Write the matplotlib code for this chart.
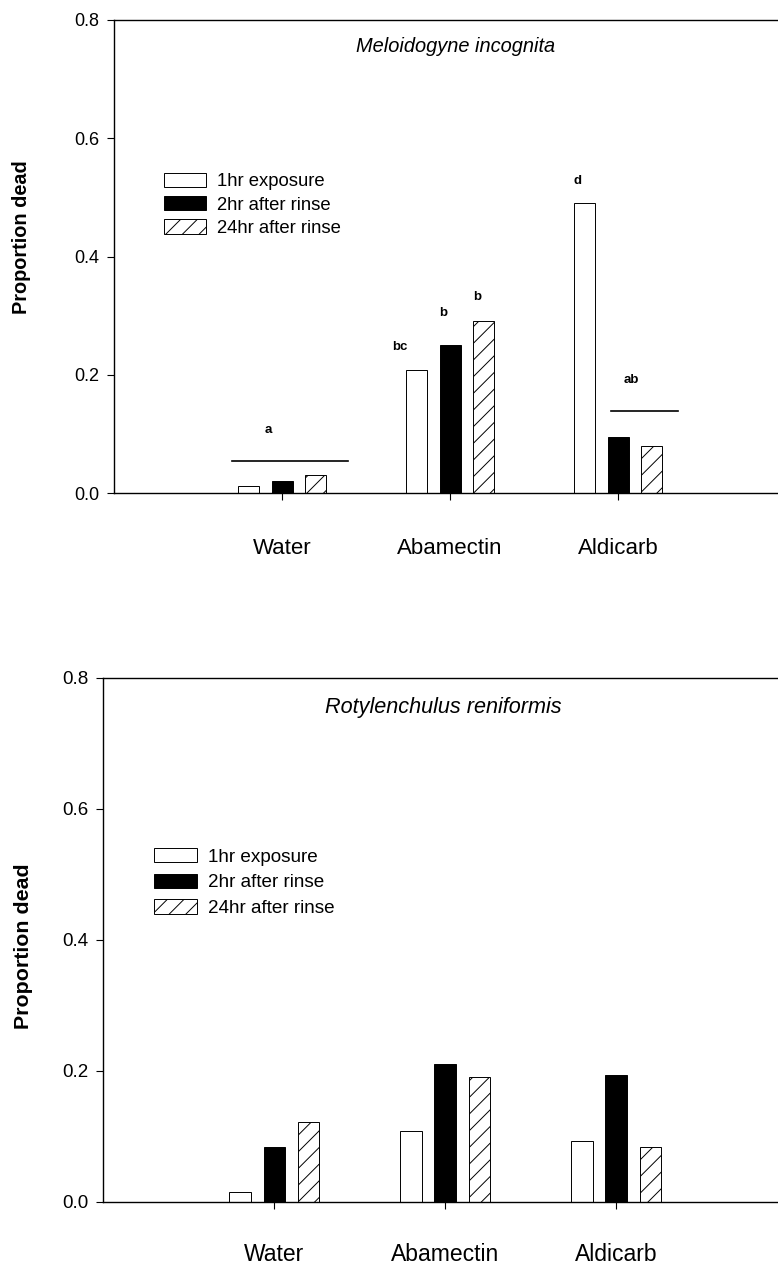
import numpy as np
import matplotlib
matplotlib.use("Agg")
import matplotlib.pyplot as plt

plt.rcParams["font.family"] = ["Liberation Sans", "DejaVu Sans"]
plt.rcParams["hatch.linewidth"] = 0.7

treatments = ["Water", "Abamectin", "Aldicarb"]
series = ["1hr exposure", "2hr after rinse", "24hr after rinse"]

# Meloidogyne incognita, proportion dead
mi_1hr = [0.013, 0.208, 0.490]
mi_2hr = [0.021, 0.251, 0.096]
mi_24hr = [0.031, 0.291, 0.080]

# Rotylenchulus reniformis, proportion dead
rr_1hr = [0.015, 0.108, 0.093]
rr_2hr = [0.083, 0.210, 0.193]
rr_24hr = [0.122, 0.191, 0.083]

# mean separation letters (M. incognita only)
mi_letters = ["a", "bc", "b", "b", "d", "ab"]

W, H = 778, 1264
fig = plt.figure(figsize=(W / 100, H / 100), dpi=100)


def px_box(left, top, right, bottom):
    return [left / W, 1 - bottom / H, (right - left) / W, (bottom - top) / H]


def draw_panel(ax, values, title, fs):
    x = np.arange(1, len(treatments) + 1)
    width, off = 0.125, 0.2
    styles = [
        dict(facecolor="white", edgecolor="black"),
        dict(facecolor="black", edgecolor="black"),
        dict(facecolor="white", edgecolor="black", hatch="//"),
    ]
    for i, (vals, lab, st) in enumerate(zip(values, series, styles)):
        ax.bar(x + (i - 1) * off, vals, width, label=lab, linewidth=0.7, **st)

    ax.set_xlim(0, 4)
    ax.set_ylim(0, 0.8)
    ax.set_yticks([0.0, 0.2, 0.4, 0.6, 0.8])
    ax.set_yticklabels(["0.0", "0.2", "0.4", "0.6", "0.8"])
    ax.set_xticks(x)
    ax.set_xticklabels(treatments, fontsize=fs["cat"])
    ax.tick_params(axis="y", direction="out", length=5, width=0.8, labelsize=fs["tick"], pad=6)
    ax.tick_params(axis="x", direction="out", length=5, width=0.8, pad=fs["pad"])
    ax.spines["right"].set_visible(False)
    for s in ["left", "top", "bottom"]:
        ax.spines[s].set_linewidth(1.0)
    ax.text(fs["tx"], 0.755, title, style="italic", fontsize=fs["title"],
            ha="center", va="center")


ax1 = fig.add_axes(px_box(114.3, 20, 786, 493.3))
draw_panel(ax1, [mi_1hr, mi_2hr, mi_24hr], "Meloidogyne incognita",
           dict(cat=16, tick=13, title=14.4, pad=27, tx=2.03))

letter_x = [0.92, 1.70, 1.96, 2.16, 2.76, 3.08]
letter_y = [0.107, 0.248, 0.305, 0.332, 0.528, 0.192]
for lab, lx, ly in zip(mi_letters, letter_x, letter_y):
    ax1.text(lx, ly, lab, fontsize=9.5, fontweight="bold", ha="center", va="center")
ax1.plot([0.70, 1.39], [0.054, 0.054], color="black", linewidth=1.2)
ax1.plot([2.958, 3.357], [0.1386, 0.1386], color="black", linewidth=1.2)

ax1.legend(loc="upper left", bbox_to_anchor=(164.3 / W, 1 - 173 / H),
           bbox_transform=fig.transFigure, frameon=False, fontsize=13.3,
           borderpad=0, borderaxespad=0, handlelength=2.27, handleheight=0.8,
           handletextpad=0.6, labelspacing=0.31)
fig.text(22 / W, 1 - 237 / H, "Proportion dead", rotation=90, fontsize=14.3,
         fontweight="bold", ha="center", va="center")

ax2 = fig.add_axes(px_box(103.3, 677.7, 787, 1201.7))
draw_panel(ax2, [rr_1hr, rr_2hr, rr_24hr], "Rotylenchulus reniformis",
           dict(cat=16.5, tick=13.5, title=15.6, pad=25, tx=1.99))
ax2.legend(loc="upper left", bbox_to_anchor=(154 / W, 1 - 848 / H),
           bbox_transform=fig.transFigure, frameon=False, fontsize=13.6,
           borderpad=0, borderaxespad=0, handlelength=2.27, handleheight=0.8,
           handletextpad=0.6, labelspacing=0.41)
fig.text(24 / W, 1 - 946 / H, "Proportion dead", rotation=90, fontsize=15.4,
         fontweight="bold", ha="center", va="center")

fig.savefig("out.png", dpi=100)
